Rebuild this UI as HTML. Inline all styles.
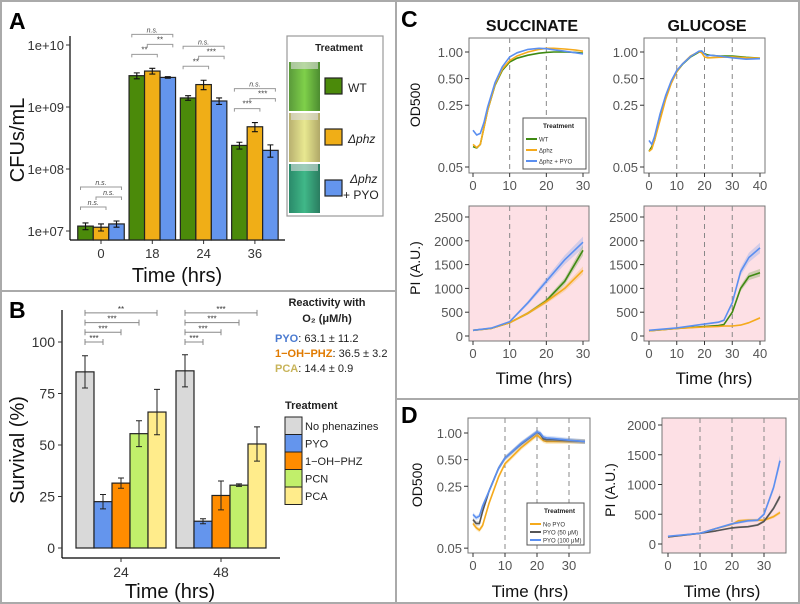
<!DOCTYPE html>
<html><head><meta charset="utf-8"><style>
html,body{margin:0;padding:0;background:#fff}
svg{display:block;font-family:"Liberation Sans",Arial,sans-serif}
</style></head><body>
<svg id="fig" width="800" height="604" viewBox="0 0 800 604" xmlns="http://www.w3.org/2000/svg">
<defs>
<linearGradient id="tubeG" x1="0" x2="1"><stop offset="0" stop-color="#5a9a3a"/><stop offset="0.5" stop-color="#7fd04a"/><stop offset="1" stop-color="#4c8c30"/></linearGradient>
<linearGradient id="tubeY" x1="0" x2="1"><stop offset="0" stop-color="#b8b070"/><stop offset="0.5" stop-color="#e8e890"/><stop offset="1" stop-color="#b0a868"/></linearGradient>
<linearGradient id="tubeT" x1="0" x2="1"><stop offset="0" stop-color="#2a8a6a"/><stop offset="0.5" stop-color="#40b888"/><stop offset="1" stop-color="#2a7c60"/></linearGradient>
</defs>
</svg>
<script>
// ---------- Panel A data ----------
const aCats = ["0","18","24","36"];
const aWT  = [1.2e7, 3.2e9, 1.4e9, 2.4e8];
const aPhz = [1.15e7, 3.8e9, 2.3e9, 4.8e8];
const aPyo = [1.3e7, 3.0e9, 1.25e9, 2.0e8];
const aErrWT  = [0.15e7, 0.35e9, 0.12e9, 0.3e8];
const aErrPhz = [0.15e7, 0.4e9, 0.4e9, 0.8e8];
const aErrPyo = [0.15e7, 0.08e9, 0.15e9, 0.45e8];
const aTicks = [1e7,1e8,1e9,1e10];
const aTickLabels = ["1e+07","1e+08","1e+09","1e+10"];
const aSig01 = ["n.s.","**","**","***"];
const aSig12 = ["n.s.","**","***","***"];
const aSig02 = ["n.s.","n.s.","n.s.","n.s."];
// ---------- Panel B data ----------
const bCats = ["24","48"];
const bNames = ["No phenazines","PYO","1\u2212OH\u2212PHZ","PCN","PCA"];
const bVals24 = [85.5, 22.5, 31.5, 55.5, 66];
const bVals48 = [86, 13, 25.5, 30.5, 50.5];
const bErr24 = [7.8, 3.5, 2.5, 6.3, 11];
const bErr48 = [7.8, 1.2, 7, 0.6, 8.3];
const bTicks = [0,25,50,75,100];
const bSig24 = ["***","***","***","**"];
const bSig48 = ["***","***","***","***"];
// ---------- Panel C data ----------
const sodT = [0,1,2,3,4,6,8,10,12,15,18,20,22,25,28,30];
const sodWT  = [0.085,0.082,0.09,0.14,0.22,0.42,0.62,0.77,0.85,0.92,0.97,0.99,1.0,1.0,0.99,0.97];
const sodPhz = [0.09,0.083,0.09,0.14,0.22,0.43,0.64,0.8,0.9,1.0,1.07,1.1,1.1,1.08,1.05,1.02];
const sodPyo = [0.13,0.115,0.12,0.16,0.24,0.45,0.68,0.88,0.98,1.07,1.1,1.09,1.06,1.02,0.98,0.95];
const godT = [0,1,2,4,6,8,10,12,15,18,19,20,21,22,25,30,35,40];
const godWT  = [0.075,0.085,0.1,0.18,0.3,0.45,0.6,0.72,0.88,1.0,1.0,0.96,0.93,0.92,0.9,0.9,0.87,0.85];
const godPhz = [0.075,0.08,0.1,0.17,0.29,0.44,0.6,0.73,0.9,1.01,0.98,0.88,0.86,0.86,0.87,0.88,0.86,0.85];
const godPyo = [0.1,0.09,0.11,0.2,0.32,0.47,0.62,0.73,0.89,1.02,1.03,0.95,0.9,0.92,0.9,0.86,0.83,0.84];
const spiT = [0,5,10,15,20,25,30];
const spiWT  = [120,160,280,480,740,1150,1800];
const spiPhz = [120,160,280,480,720,1000,1380];
const spiPyo = [120,165,300,700,1150,1600,1970];
const gpiT = [0,10,20,25,27,30,33,36,40];
const gpiWT  = [110,160,200,220,240,500,1000,1250,1330];
const gpiPhz = [110,160,190,200,210,210,230,280,380];
const gpiPyo = [120,170,250,290,330,700,1350,1650,1850];
// ---------- Panel D data ----------
const dodT = [0,1,2,3,5,8,10,15,20,21,22,23,25,30,35];
const dodNo  = [0.095,0.085,0.08,0.09,0.16,0.32,0.45,0.68,0.95,0.88,0.82,0.8,0.8,0.8,0.8];
const dod50  = [0.105,0.095,0.095,0.13,0.22,0.4,0.52,0.75,1.02,0.97,0.86,0.84,0.84,0.82,0.8];
const dod100 = [0.12,0.11,0.115,0.15,0.22,0.4,0.52,0.76,1.03,1.0,0.9,0.88,0.87,0.83,0.8];
const dpiT = [0,10,15,20,22,25,28,30,33,35];
const dpiNo  = [120,180,260,330,390,400,400,400,460,530];
const dpi50  = [120,180,220,270,280,290,320,380,600,800];
const dpi100 = [130,180,260,340,360,390,400,500,950,1400];
const odTicks = [0.05,0.25,0.5,1.0];
const odTickLabels = ["0.05","0.25","0.50","1.00"];
const piTicksC = [0,500,1000,1500,2000,2500];
const piTicksD = [0,500,1000,1500,2000];

const NS="http://www.w3.org/2000/svg";
const svg=document.getElementById('fig');
function el(tag,attrs,parent){const e=document.createElementNS(NS,tag);for(const k in attrs)e.setAttribute(k,attrs[k]);(parent||svg).appendChild(e);return e;}
function txt(s,x,y,size,opts,parent){const t=el('text',Object.assign({x:x,y:y,'font-size':size,fill:'#222'},opts||{}),parent);t.textContent=s;return t;}

let fr=el('rect',{x:1,y:1,width:798,height:602,fill:'none',stroke:'#aaa','stroke-width':2});


let d1=el('line',{x1:396,y1:0,x2:396,y2:604,stroke:'#aaa','stroke-width':2});


let d2=el('line',{x1:0,y1:291,x2:396,y2:291,stroke:'#aaa','stroke-width':2});


let d3=el('line',{x1:396,y1:399,x2:800,y2:399,stroke:'#aaa','stroke-width':2});



let pl;
pl=txt('A',9,29,23,{'font-weight':'bold',fill:'#000'});


pl=txt('B',9,318,23,{'font-weight':'bold',fill:'#000'});


pl=txt('C',401,27,23,{'font-weight':'bold',fill:'#000'});


pl=txt('D',401,423,23,{'font-weight':'bold',fill:'#000'});



// ================= PANEL A =================
const aG=el('g',{});


const aY=v=>231-(Math.log10(v)-7)*62;
const aX=i=>101+i*51.3;
const aBW=15.5;
const aCols=['#4b8a0a','#f0ae17','#6495ed'];
const aSer=[aWT,aPhz,aPyo], aErr=[aErrWT,aErrPhz,aErrPyo];
let ax=el('line',{x1:70,y1:36,x2:70,y2:240,stroke:'#000','stroke-width':1.2},aG);


ax=el('line',{x1:70,y1:240,x2:285,y2:240,stroke:'#000','stroke-width':1.2},aG);


aTicks.forEach((v,i)=>{
  el('line',{x1:66,x2:70,y1:aY(v),y2:aY(v),stroke:'#333'},aG);
  let t=txt(aTickLabels[i],64,aY(v)+5,13,{'text-anchor':'end',fill:'#333'},aG);
  
  
});
aCats.forEach((c,g)=>{
  el('line',{x1:aX(g),x2:aX(g),y1:240,y2:244,stroke:'#333'},aG);
  let t=txt(c,aX(g),258,13,{'text-anchor':'middle',fill:'#333'},aG);
  
  
  for(let s=0;s<3;s++){
    const cx=aX(g)+(s-1)*aBW, v=aSer[s][g], e=aErr[s][g];
    let r=el('rect',{x:cx-aBW/2,y:aY(v),width:aBW,height:240-aY(v),fill:aCols[s],stroke:'#222','stroke-width':1.2},aG);
    
    
    const y1=aY(v+e),y2=aY(v-e);
    el('path',{d:`M${cx} ${y1}V${y2}M${cx-3} ${y1}H${cx+3}M${cx-3} ${y2}H${cx+3}`,stroke:'#111',fill:'none','stroke-width':1.1},aG);
  }
  const top=Math.min(aY(aSer[0][g]+aErr[0][g]),aY(aSer[1][g]+aErr[1][g]),aY(aSer[2][g]+aErr[2][g]));
  const defs=[[0,1,aSig01[g],top-14],[1,2,aSig12[g],top-24],[0,2,aSig02[g],top-34]];
  defs.forEach(d=>{
    const xa=aX(g)+(d[0]-1)*aBW-5, xb=aX(g)+(d[1]-1)*aBW+5, y=d[3];
    let b=el('path',{d:`M${xa} ${y+3}V${y}H${xb}V${y+3}`,stroke:'#999',fill:'none','stroke-width':1},aG);
    
    
    let t=txt(d[2],(xa+xb)/2,y-2,d[2]==='n.s.'?7:8,{'text-anchor':'middle','font-style':d[2]==='n.s.'?'italic':'normal',fill:'#444'},aG);
    
    
  });
});
let at=txt('Time (hrs)',177,282,20,{'text-anchor':'middle',fill:'#111'},aG);


at=txt('CFUs/mL',0,0,20,{'text-anchor':'middle',fill:'#111',transform:'translate(24 140) rotate(-90)'},aG);


const aL=el('g',{},aG);


el('rect',{x:287,y:36,width:96,height:180,fill:'#fff',stroke:'#999','stroke-width':1.2},aL);
txt('Treatment',339,51,10,{'text-anchor':'middle','font-weight':'bold',fill:'#222'},aL);
const tubes=['url(#tubeG)','url(#tubeY)','url(#tubeT)'];
for(let i=0;i<3;i++){
  const ty=62+i*51;
  let im=el('rect',{x:289,y:ty,width:31,height:49,fill:tubes[i]},aL);
  
  
  el('rect',{x:291,y:ty,width:27,height:7,fill:'#ddd',opacity:0.6},aL);
  let sw=el('rect',{x:325,y:ty+16,width:17,height:16,fill:aCols[i],stroke:'#222','stroke-width':1.2},aL);
  
  
  if(i===0){txt('WT',348,ty+30,12,{},aL);}
  else if(i===1){txt('\u0394phz',348,ty+30,12,{'font-style':'italic'},aL);}
  else {txt('\u0394phz',350,ty+19,12,{'font-style':'italic'},aL);txt('+ PYO',343,ty+35,12,{},aL);}
}

// ================= PANEL B =================
const bG=el('g',{});


const bY=v=>548-v*2.06;
const bX=g=>121+g*100;
const bBW=18;
const bCols=['#d9d9d9','#6495ed','#ff8c00','#c1ef6b','#ffec8b'];
let bx=el('line',{x1:62,y1:310,x2:62,y2:558,stroke:'#000','stroke-width':1.2},bG);


bx=el('line',{x1:62,y1:558,x2:280,y2:558,stroke:'#000','stroke-width':1.2},bG);


bTicks.forEach(v=>{
  el('line',{x1:58,x2:62,y1:bY(v),y2:bY(v),stroke:'#333'},bG);
  let t=txt(String(v),55,bY(v)+5,14,{'text-anchor':'end',fill:'#333'},bG);
  
  
});
[bVals24,bVals48].forEach((vals,g)=>{
  const errs=g?bErr48:bErr24, sig=g?bSig48:bSig24;
  el('line',{x1:bX(g),x2:bX(g),y1:558,y2:562,stroke:'#333'},bG);
  let t=txt(bCats[g],bX(g),577,14,{'text-anchor':'middle',fill:'#333'},bG);
  
  
  vals.forEach((v,s)=>{
    const cx=bX(g)+(s-2)*bBW;
    let r=el('rect',{x:cx-bBW/2,y:bY(v),width:bBW,height:bY(0)-bY(v),fill:bCols[s],stroke:'#222','stroke-width':1.2},bG);
    
    
    const y1=bY(v+errs[s]),y2=bY(v-errs[s]);
    el('path',{d:`M${cx} ${y1}V${y2}M${cx-3} ${y1}H${cx+3}M${cx-3} ${y2}H${cx+3}`,stroke:'#222',fill:'none','stroke-width':1},bG);
  });
  for(let k=0;k<4;k++){
    const xa=bX(g)-2*bBW, xb=bX(g)+(k-1)*bBW, y=342-k*9.7;
    let b=el('path',{d:`M${xa} ${y-3}V${y+3}M${xa} ${y}H${xb}M${xb} ${y-3}V${y+3}`,stroke:'#888',fill:'none','stroke-width':1},bG);
    
    
    let st=txt(sig[k],(xa+xb)/2,y-1,8,{'text-anchor':'middle',fill:'#333'},bG);
    
    
  }
});
let bt=txt('Time (hrs)',170,598,20,{'text-anchor':'middle',fill:'#111'},bG);


bt=txt('Survival (%)',0,0,20,{'text-anchor':'middle',fill:'#111',transform:'translate(24 450) rotate(-90)'},bG);


const rG=el('g',{},bG);


txt('Reactivity with',327,306,11,{'text-anchor':'middle','font-weight':'bold'},rG);
txt('O\u2082 (\u03bcM/h)',327,322,11,{'text-anchor':'middle','font-weight':'bold'},rG);
let r1=txt('',275,342,11,{},rG);r1.innerHTML='<tspan fill="#4a7ad0" font-weight="bold">PYO</tspan>:  63.1 ± 11.2';
let r2=txt('',275,357,11,{},rG);r2.innerHTML='<tspan fill="#e07a00" font-weight="bold">1\u2212OH\u2212PHZ</tspan>: 36.5 ± 3.2';
let r3=txt('',275,372,11,{},rG);r3.innerHTML='<tspan fill="#c8b45a" font-weight="bold">PCA</tspan>:  14.4 ± 0.9';
const bL=el('g',{},bG);


txt('Treatment',285,409,11,{'font-weight':'bold'},bL);
bNames.forEach((n,i)=>{
  let sw=el('rect',{x:285,y:417+i*17.5,width:17,height:17.5,fill:bCols[i],stroke:'#222','stroke-width':1},bL);
  
  
  txt(n,305,430+i*17.5,11,{},bL);
});

// ================= generic line plots =================
function linePlot(cfg){
  const g=el('g',{});
  
  
  el('rect',{x:cfg.x0,y:cfg.y0,width:cfg.x1-cfg.x0,height:cfg.y1-cfg.y0,fill:cfg.bg||'#fff',stroke:'#777','stroke-width':1},g);
  const X=t=>cfg.xa+(t-0)*(cfg.xb-cfg.xa)/cfg.xmax;
  const Y=cfg.Y;
  cfg.vlines.forEach(v=>{el('line',{x1:X(v),x2:X(v),y1:cfg.y0,y2:cfg.y1,stroke:'#888','stroke-dasharray':'5,4','stroke-width':1},g);});
  cfg.yticks.forEach((v,i)=>{
    el('line',{x1:cfg.x0-4,x2:cfg.x0,y1:Y(v),y2:Y(v),stroke:'#333'},g);
    let t=txt(cfg.ylabels?cfg.ylabels[i]:String(v),cfg.x0-6,Y(v)+5,cfg.tfs||13,{'text-anchor':'end',fill:'#555'},g);
    
    
  });
  cfg.xticks.forEach(v=>{
    el('line',{x1:X(v),x2:X(v),y1:cfg.y1,y2:cfg.y1+4,stroke:'#333'},g);
    let t=txt(String(v),X(v),cfg.y1+17,cfg.tfs||13,{'text-anchor':'middle',fill:'#555'},g);
    
    
  });
  cfg.series.forEach(s=>{
    const pts=s.t.map((t,i)=>X(t).toFixed(1)+','+Y(s.v[i]).toFixed(1)).join(' ');
    if(cfg.band){
      const up=s.t.map((t,i)=>X(t).toFixed(1)+','+Y(s.v[i]*1.06).toFixed(1));
      const dn=s.t.map((t,i)=>X(t).toFixed(1)+','+Y(s.v[i]*0.94).toFixed(1)).reverse();
      el('polygon',{points:up.concat(dn).join(' '),fill:s.c,opacity:0.25},g);
    }
    let p=el('polyline',{points:pts,fill:'none',stroke:s.c,'stroke-width':1.6,'stroke-linejoin':'round'},g);
    
    
  });
  return g;
}
const cGreen='#3f8a12', cOrange='#f5aa1c', cBlue='#5b8ff0', cGray='#555';
const logY=(top,per)=>v=>top-Math.log10(v)*per;
linePlot({name:'c-succinate-od-plot',x0:469,x1:589,y0:38,y1:173,xa:473,xb:583,xmax:30,Y:logY(52,88.4),vlines:[10,20],yticks:odTicks,ylabels:odTickLabels,xticks:[0,10,20,30],
  series:[{t:sodT,v:sodWT,c:cGreen,name:'succinate-od-wt-line'},{t:sodT,v:sodPhz,c:cOrange,name:'succinate-od-phz-line'},{t:sodT,v:sodPyo,c:cBlue,name:'succinate-od-pyo-line'}]});
linePlot({name:'c-glucose-od-plot',x0:644,x1:765,y0:38,y1:173,xa:649,xb:760,xmax:40,Y:logY(52,88.4),vlines:[10,20,30],yticks:odTicks,ylabels:odTickLabels,xticks:[0,10,20,30,40],
  series:[{t:godT,v:godWT,c:cGreen,name:'glucose-od-wt-line'},{t:godT,v:godPhz,c:cOrange,name:'glucose-od-phz-line'},{t:godT,v:godPyo,c:cBlue,name:'glucose-od-pyo-line'}]});
const piYC=v=>336-v*0.0476;
linePlot({name:'c-succinate-pi-plot',x0:469,x1:589,y0:206,y1:341,xa:473,xb:583,xmax:30,Y:piYC,bg:'#fde0e5',band:true,vlines:[10,20],yticks:piTicksC,xticks:[0,10,20,30],
  series:[{t:spiT,v:spiWT,c:cGreen,name:'succinate-pi-wt-line'},{t:spiT,v:spiPhz,c:cOrange,name:'succinate-pi-phz-line'},{t:spiT,v:spiPyo,c:cBlue,name:'succinate-pi-pyo-line'}]});
linePlot({name:'c-glucose-pi-plot',x0:644,x1:765,y0:206,y1:341,xa:649,xb:760,xmax:40,Y:piYC,bg:'#fde0e5',band:true,vlines:[10,20,30],yticks:piTicksC,xticks:[0,10,20,30,40],
  series:[{t:gpiT,v:gpiWT,c:cGreen,name:'glucose-pi-wt-line'},{t:gpiT,v:gpiPhz,c:cOrange,name:'glucose-pi-phz-line'},{t:gpiT,v:gpiPyo,c:cBlue,name:'glucose-pi-pyo-line'}]});
linePlot({name:'d-od-plot',x0:468,x1:590,y0:418,y1:553,xa:473,xb:569,xmax:30,Y:logY(433,88.5),band:true,vlines:[10,20,30],yticks:odTicks,ylabels:odTickLabels,xticks:[0,10,20,30],
  series:[{t:dodT,v:dodNo,c:cOrange,name:'d-od-no-pyo-line'},{t:dodT,v:dod50,c:cGray,name:'d-od-pyo50-line'},{t:dodT,v:dod100,c:cBlue,name:'d-od-pyo100-line'}]});
linePlot({name:'d-pi-plot',x0:662,x1:786,y0:418,y1:553,xa:668,xb:764,xmax:30,Y:v=>544-v*0.0595,bg:'#fde0e5',band:true,vlines:[10,20,30],yticks:piTicksD,xticks:[0,10,20,30],
  series:[{t:dpiT,v:dpiNo,c:cOrange,name:'d-pi-no-pyo-line'},{t:dpiT,v:dpi50,c:cGray,name:'d-pi-pyo50-line'},{t:dpiT,v:dpi100,c:cBlue,name:'d-pi-pyo100-line'}]});

function lab(s,x,y,size,opts,name){let t=txt(s,x,y,size,opts);return t;}
lab('SUCCINATE',532,31,16,{'text-anchor':'middle','font-weight':'bold',fill:'#111'},'c-succinate-title');
lab('GLUCOSE',707,31,16,{'text-anchor':'middle','font-weight':'bold',fill:'#111'},'c-glucose-title');
lab('OD500',0,0,14,{'text-anchor':'middle',fill:'#111',transform:'translate(420 105) rotate(-90)'},'c-od-y-title');
lab('PI (A.U.)',0,0,14,{'text-anchor':'middle',fill:'#111',transform:'translate(420 268) rotate(-90)'},'c-pi-y-title');
lab('Time (hrs)',534,384,17,{'text-anchor':'middle',fill:'#111'},'c-succinate-x-title');
lab('Time (hrs)',714,384,17,{'text-anchor':'middle',fill:'#111'},'c-glucose-x-title');
lab('OD500',0,0,14,{'text-anchor':'middle',fill:'#111',transform:'translate(422 485) rotate(-90)'},'d-od-y-title');
lab('PI (A.U.)',0,0,14,{'text-anchor':'middle',fill:'#111',transform:'translate(615 490) rotate(-90)'},'d-pi-y-title');
lab('Time (hrs)',530,597,17,{'text-anchor':'middle',fill:'#111'},'d-od-x-title');
lab('Time (hrs)',722,597,17,{'text-anchor':'middle',fill:'#111'},'d-pi-x-title');

function lineLegend(x,y,w,h,items,name){
  const g=el('g',{});
  
  
  el('rect',{x:x,y:y,width:w,height:h,fill:'#fff',stroke:'#555','stroke-width':1},g);
  txt('Treatment',x+w/2+4,y+10,6.5,{'text-anchor':'middle','font-weight':'bold'},g);
  items.forEach((it,i)=>{
    const yy=y+18+i*(h-18)/items.length+3;
    el('line',{x1:x+3,x2:x+14,y1:yy,y2:yy,stroke:it[1],'stroke-width':2},g);
    txt(it[0],x+16,yy+2.5,6,{fill:'#333'},g);
  });
}
lineLegend(523,118,63,51,[['WT',cGreen],['\u0394phz',cOrange],['\u0394phz + PYO',cBlue]],'c-legend');
lineLegend(527,503,57,42,[['No PYO',cOrange],['PYO (50 \u03bcM)',cGray],['PYO (100 \u03bcM)',cBlue]],'d-legend');
</script>
</body></html>
